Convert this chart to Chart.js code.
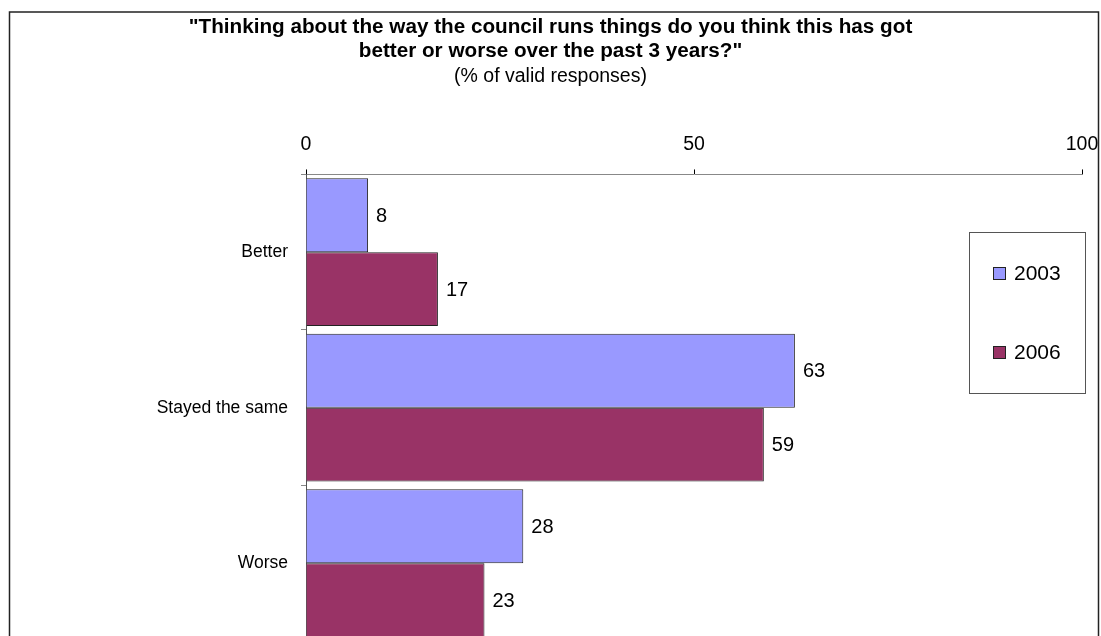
<!DOCTYPE html>
<html>
<head>
<meta charset="utf-8">
<script src="https://cdn.jsdelivr.net/npm/chart.js@4/dist/chart.umd.min.js"></script>
<style>
  html, body { margin: 0; padding: 0; background: #fff; overflow: hidden; }
  #wrap { width: 1101px; height: 660px; }
</style>
</head>
<body>
<div id="wrap"><canvas id="chart" width="1101" height="660"></canvas></div>
<script>
// Data
const categories = ['Better', 'Stayed the same', 'Worse'];
const values2003 = [8, 63, 28];
const values2006 = [17, 59, 23];
const seriesNames = ['2003', '2006'];
const xTicks = [0, 50, 100];

const titleLines = ['"Thinking about the way the council runs things do you think this has got', 'better or worse over the past 3 years?"'];
const subtitleText = '(% of valid responses)';

const FONT = '"Liberation Sans", Arial, sans-serif';
Chart.defaults.font.family = FONT;
Chart.defaults.color = '#000';

// Outer frame around the chart
const framePlugin = {
  id: 'frame',
  beforeDraw(chart) {
    const ctx = chart.ctx;
    ctx.save();
    ctx.fillStyle = '#fff';
    ctx.fillRect(0, 0, chart.width, chart.height);
    ctx.strokeStyle = '#222';
    ctx.lineWidth = 1.5;
    ctx.strokeRect(9.5, 12, 1089, 700);
    ctx.restore();
  }
};

// Value labels right of each bar
const valueLabels = {
  id: 'valueLabels',
  afterDatasetsDraw(chart) {
    const ctx = chart.ctx;
    ctx.save();
    ctx.font = '20px ' + FONT;
    ctx.fillStyle = '#000';
    ctx.textAlign = 'left';
    ctx.textBaseline = 'middle';
    chart.data.datasets.forEach((ds, i) => {
      chart.getDatasetMeta(i).data.forEach((bar, j) => {
        ctx.fillText(String(ds.data[j]), bar.x + 8, bar.y + 1);
      });
    });
    ctx.restore();
  }
};

// Boxed legend on the right
const boxLegend = {
  id: 'boxLegend',
  afterDraw(chart) {
    const ctx = chart.ctx;
    const bx = 969, by = 232, bw = 116, bh = 161;
    ctx.save();
    ctx.strokeStyle = '#555';
    ctx.lineWidth = 1;
    ctx.strokeRect(bx + 0.5, by + 0.5, bw, bh);
    ctx.font = '21px ' + FONT;
    ctx.textBaseline = 'middle';
    ctx.textAlign = 'left';
    const rows = [273, 352];
    chart.data.datasets.forEach((ds, i) => {
      const y = rows[i];
      ctx.fillStyle = ds.backgroundColor;
      ctx.fillRect(993, y - 6, 13, 13);
      ctx.strokeStyle = '#222';
      ctx.strokeRect(993.5, y - 5.5, 12, 12);
      ctx.fillStyle = '#000';
      ctx.fillText(ds.label, 1014, y + 1);
    });
    ctx.restore();
  }
};

new Chart(document.getElementById('chart'), {
  type: 'bar',
  data: {
    labels: categories,
    datasets: [
      {
        label: seriesNames[0],
        data: values2003,
        backgroundColor: '#9999FF',
        borderColor: '#222',
        borderWidth: 1,
        categoryPercentage: 0.95,
        barPercentage: 1.0
      },
      {
        label: seriesNames[1],
        data: values2006,
        backgroundColor: '#993366',
        borderColor: '#222',
        borderWidth: 1,
        categoryPercentage: 0.95,
        barPercentage: 1.0
      }
    ]
  },
  options: {
    indexAxis: 'y',
    responsive: false,
    animation: false,
    layout: { padding: { left: 19, right: 19, top: 0, bottom: 19 } },
    plugins: {
      legend: { display: false },
      tooltip: { enabled: false },
      title: {
        display: true,
        text: titleLines,
        font: { size: 20.7, weight: 'bold', lineHeight: 1.17 },
        padding: { top: 15, bottom: 0 },
        color: '#000'
      },
      subtitle: {
        display: true,
        text: subtitleText,
        font: { size: 19.5, lineHeight: 1.2 },
        padding: { top: 1, bottom: 0 },
        color: '#000'
      }
    },
    scales: {
      x: {
        position: 'top',
        min: 0,
        max: 100,
        afterBuildTicks(scale) {
          scale.ticks = xTicks.map(v => ({ value: v }));
        },
        afterFit(scale) {
          scale.height = 86.6;
          scale.paddingLeft = 0;
          scale.paddingRight = 0;
        },
        ticks: { font: { size: 19.5 }, color: '#000', padding: 13, maxRotation: 0 },
        grid: { drawOnChartArea: false, tickLength: 5, color: '#000' },
        border: { color: '#888', width: 1 }
      },
      y: {
        afterFit(scale) {
          scale.width = 287;
          scale.paddingTop = 0;
          scale.paddingBottom = 0;
        },
        ticks: { font: { size: 17.5 }, color: '#000', padding: 13 },
        grid: { drawOnChartArea: false, offset: true, tickLength: 5, color: '#888' },
        border: { color: '#555', width: 1 }
      }
    }
  },
  plugins: [framePlugin, valueLabels, boxLegend]
});
</script>
</body>
</html>
